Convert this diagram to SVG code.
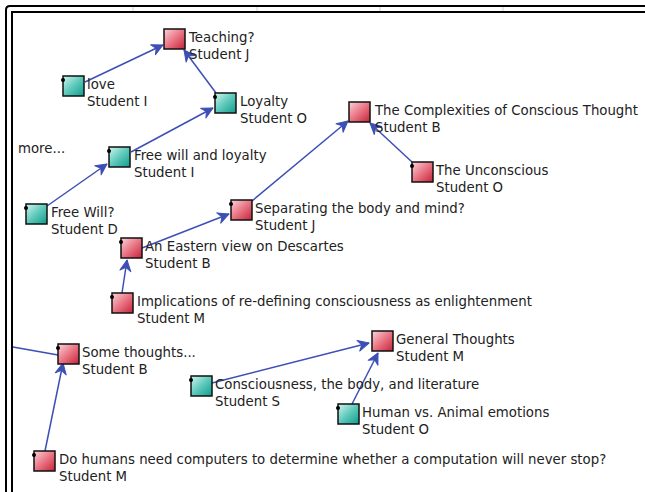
<svg xmlns="http://www.w3.org/2000/svg" width="645" height="492" viewBox="0 0 645 492">
<style>
.t{font-family:"DejaVu Sans","Liberation Sans",sans-serif;font-size:13.3px;fill:#222}
.e{stroke:#3d4fb5;stroke-width:1.5;fill:none}
.r{fill:url(#gr);stroke:#111;stroke-width:1.5}
.g{fill:url(#gt);stroke:#111;stroke-width:1.5}
.d{fill:#000}
</style>
<defs>
<linearGradient id="gr" x1="0" y1="0" x2="1" y2="1">
<stop offset="0" stop-color="#fcd3da"/>
<stop offset="0.5" stop-color="#e97584"/>
<stop offset="1" stop-color="#c42238"/>
</linearGradient>
<linearGradient id="gt" x1="0" y1="0" x2="1" y2="1">
<stop offset="0" stop-color="#d2f6f0"/>
<stop offset="0.5" stop-color="#5ec9bb"/>
<stop offset="1" stop-color="#0f9c8c"/>
</linearGradient>
<marker id="a" markerUnits="userSpaceOnUse" markerWidth="15" markerHeight="14" refX="12" refY="7" orient="auto">
<path d="M1,1.5 L12,7 L1,12.5 L4.5,7 Z" fill="#3d4fb5" stroke="#3d4fb5" stroke-width="1" stroke-linejoin="round"/>
</marker>
</defs>
<rect width="645" height="492" fill="#fff"/>
<g id="frame" fill="none" stroke="#000" stroke-width="2">
<path d="M6,492 V10 Q6,6 10,6 H645"/>
<path d="M12,492 V12 H645"/>
<g stroke="#ccc" stroke-width="1"><path d="M133,7 V11 M257,7 V11 M380,7 V11 M503,7 V11"/></g>
</g>
<text class="t" x="18" y="153">more...</text>
<g id="connectors">
<line class="e" x1="85" y1="82" x2="163" y2="45" marker-end="url(#a)"/>
<line class="e" x1="216" y1="93" x2="184" y2="50" marker-end="url(#a)"/>
<line class="e" x1="131" y1="152" x2="213" y2="108" marker-end="url(#a)"/>
<line class="e" x1="47" y1="206" x2="107" y2="164" marker-end="url(#a)"/>
<line class="e" x1="142" y1="248" x2="229" y2="214" marker-end="url(#a)"/>
<line class="e" x1="252" y1="201" x2="348" y2="121" marker-end="url(#a)"/>
<line class="e" x1="412" y1="162" x2="370" y2="123" marker-end="url(#a)"/>
<line class="e" x1="122" y1="293" x2="127" y2="260" marker-end="url(#a)"/>
<line class="e" x1="45" y1="451" x2="63" y2="363" marker-end="url(#a)"/>
<line class="e" x1="58" y1="355" x2="13" y2="347"/>
<line class="e" x1="212" y1="383" x2="369" y2="343" marker-end="url(#a)"/>
<line class="e" x1="352" y1="404" x2="378" y2="353" marker-end="url(#a)"/>
</g>
<g id="n-teaching"><rect class="r" x="164" y="29" width="21" height="20"/><text class="t" x="189" y="42">Teaching?</text><text class="t" x="189" y="59">Student J</text></g>
<g id="n-love"><rect class="g" x="63" y="76" width="21" height="20"/><circle class="d" cx="63" cy="80" r="2"/><text class="t" x="87" y="89">love</text><text class="t" x="87" y="106">Student I</text></g>
<g id="n-loyalty"><rect class="g" x="215" y="93" width="21" height="20"/><circle class="d" cx="215" cy="97" r="2"/><text class="t" x="240" y="106">Loyalty</text><text class="t" x="240" y="123">Student O</text></g>
<g id="n-freewillloyalty"><rect class="g" x="109" y="147" width="21" height="20"/><circle class="d" cx="109" cy="151" r="2"/><text class="t" x="134" y="160">Free will and loyalty</text><text class="t" x="134" y="177">Student I</text></g>
<g id="n-freewill"><rect class="g" x="26" y="204" width="21" height="20"/><circle class="d" cx="26" cy="208" r="2"/><text class="t" x="51" y="217">Free Will?</text><text class="t" x="51" y="234">Student D</text></g>
<g id="n-separating"><rect class="r" x="231" y="200" width="21" height="20"/><circle class="d" cx="231" cy="204" r="2"/><text class="t" x="255" y="213">Separating the body and mind?</text><text class="t" x="255" y="230">Student J</text></g>
<g id="n-complexities"><rect class="r" x="349" y="102" width="21" height="20"/><text class="t" x="375" y="115">The Complexities of Conscious Thought</text><text class="t" x="375" y="132">Student B</text></g>
<g id="n-unconscious"><rect class="r" x="412" y="162" width="21" height="20"/><circle class="d" cx="412" cy="166" r="2"/><text class="t" x="436" y="175">The Unconscious</text><text class="t" x="436" y="192">Student O</text></g>
<g id="n-eastern"><rect class="r" x="121" y="238" width="21" height="20"/><circle class="d" cx="121" cy="242" r="2"/><text class="t" x="145" y="251">An Eastern view on Descartes</text><text class="t" x="145" y="268">Student B</text></g>
<g id="n-implications"><rect class="r" x="112" y="293" width="21" height="20"/><circle class="d" cx="112" cy="297" r="2"/><text class="t" x="137" y="306">Implications of re-defining consciousness as enlightenment</text><text class="t" x="137" y="323">Student M</text></g>
<g id="n-somethoughts"><rect class="r" x="58" y="344" width="21" height="20"/><circle class="d" cx="58" cy="348" r="2"/><text class="t" x="82" y="357">Some thoughts...</text><text class="t" x="82" y="374">Student B</text></g>
<g id="n-consciousness"><rect class="g" x="191" y="376" width="21" height="20"/><circle class="d" cx="191" cy="380" r="2"/><text class="t" x="215" y="389">Consciousness, the body, and literature</text><text class="t" x="215" y="406">Student S</text></g>
<g id="n-dohumans"><rect class="r" x="34" y="451" width="21" height="20"/><circle class="d" cx="34" cy="455" r="2"/><text class="t" x="59" y="464">Do humans need computers to determine whether a computation will never stop?</text><text class="t" x="59" y="481">Student M</text></g>
<g id="n-general"><rect class="r" x="372" y="331" width="21" height="20"/><text class="t" x="396" y="344">General Thoughts</text><text class="t" x="396" y="361">Student M</text></g>
<g id="n-human"><rect class="g" x="338" y="404" width="21" height="20"/><circle class="d" cx="338" cy="408" r="2"/><text class="t" x="362" y="417">Human vs. Animal emotions</text><text class="t" x="362" y="434">Student O</text></g>
</svg>
